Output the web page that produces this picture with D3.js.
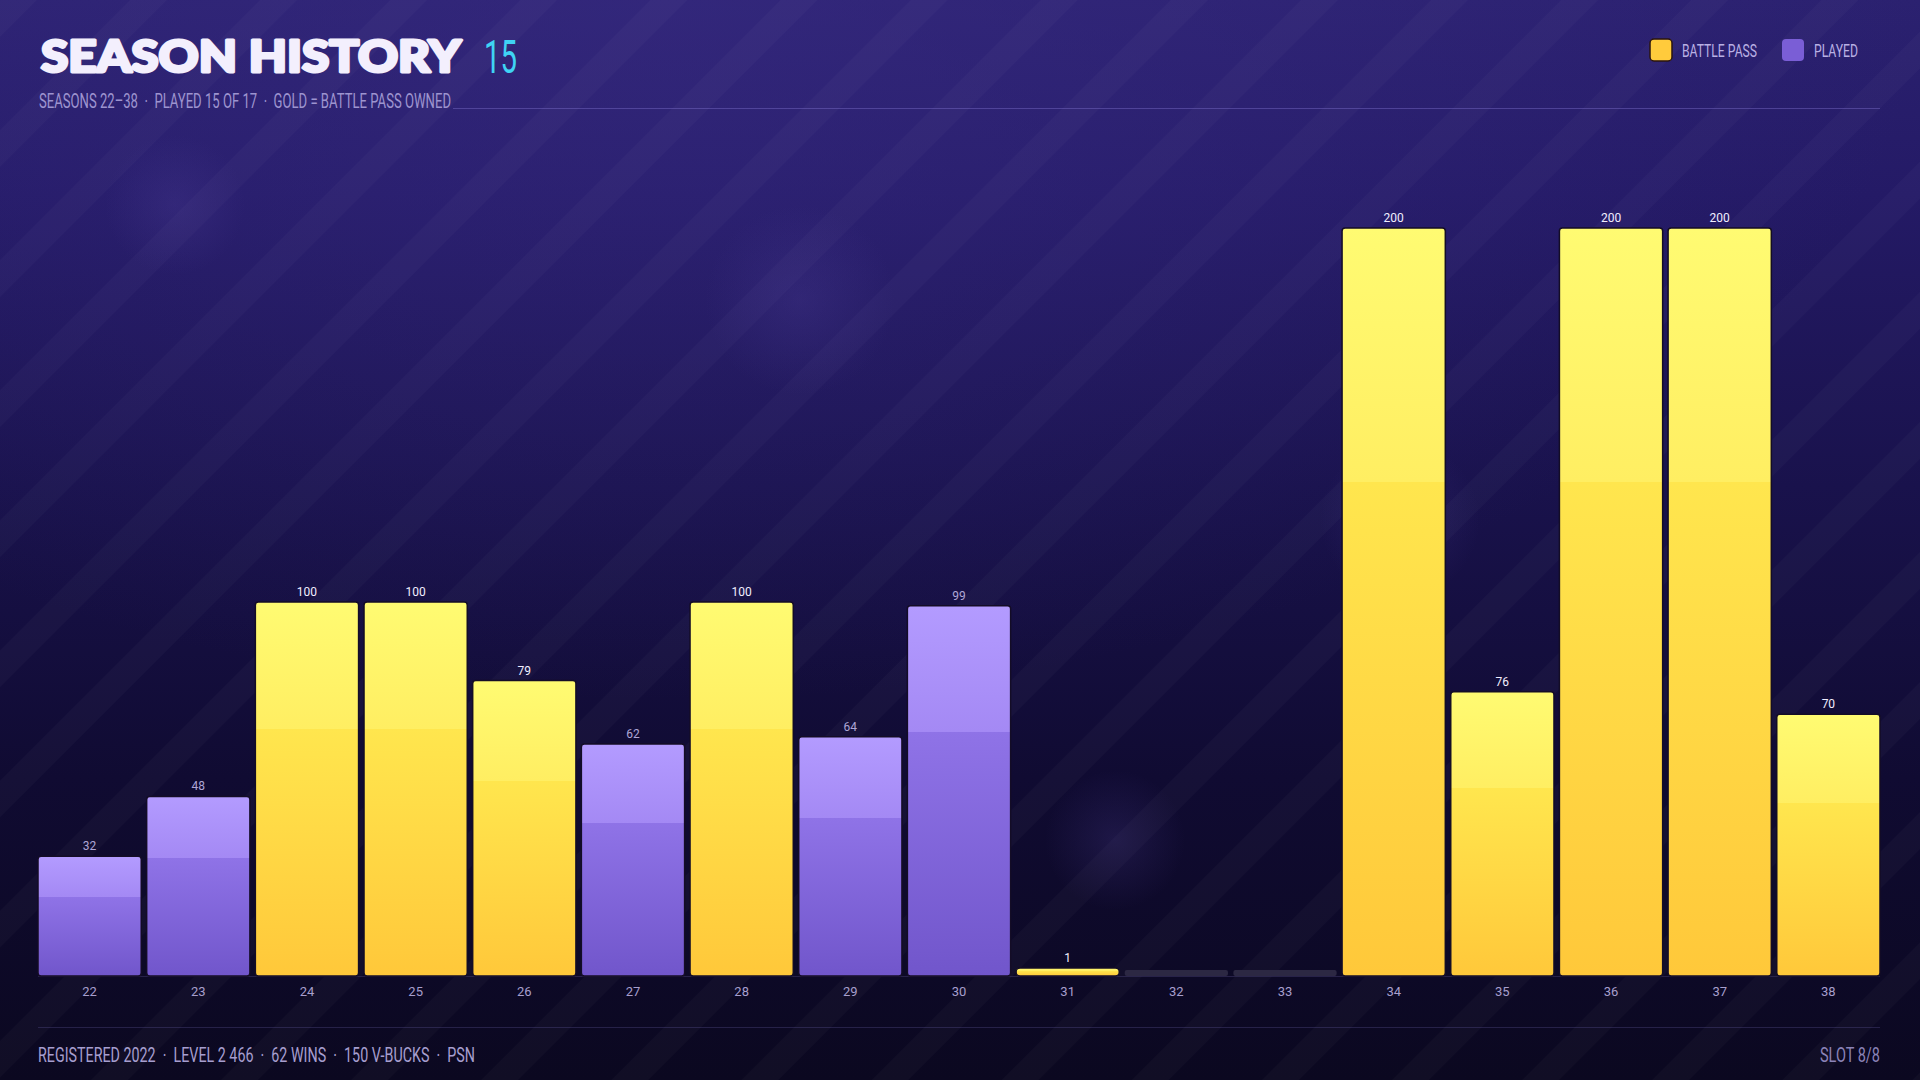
<!DOCTYPE html>
<html>
<head>
<meta charset="utf-8">
<script src="https://cdn.jsdelivr.net/npm/d3@7"></script>
<style>
  html, body { margin: 0; padding: 0; background: #0c0822; overflow: hidden; }
  svg { display: block; }
  text { white-space: pre; }
</style>
</head>
<body>
<div class="chart"></div>
<script>
// season data
const seasons = ["22","23","24","25","26","27","28","29","30","31","32","33","34","35","36","37","38"];
const levels = [32, 48, 100, 100, 79, 62, 100, 64, 99, 1, 0, 0, 200, 76, 200, 200, 70];
const battlePass = [false, false, true, true, true, false, true, false, false, true, false, false, true, true, true, true, true];
const played = [true, true, true, true, true, true, true, true, true, true, false, false, true, true, true, true, true];
const yTicks = [0, 200];

const titleText = "SEASON HISTORY";
const titleCount = "15";
const subtitleText = "SEASONS 22\u201338  \u00b7  PLAYED 15 OF 17  \u00b7  GOLD = BATTLE PASS OWNED";
const footerText = "REGISTERED 2022  \u00b7  LEVEL 2 466  \u00b7  62 WINS  \u00b7  150 V-BUCKS  \u00b7  PSN";
const slotText = "SLOT 8/8";
const legendItems = ["BATTLE PASS", "PLAYED"];

const W = 1920, H = 1080;
const plotL = 38, plotR = 1880, plotBase = 976, plotTop = 228;
const cond = "Roboto, 'Liberation Sans Narrow', 'DejaVu Sans Condensed', sans-serif";

const data = seasons.map((s, i) => ({
    season: s, level: levels[i], bp: battlePass[i], played: played[i]
}));

const svg = d3.select(".chart")
    .append("svg")
    .attr("width", W)
    .attr("height", H)
    .attr("viewBox", `0 0 ${W} ${H}`);

const defs = svg.append("defs");

// background
const bg = defs.append("linearGradient").attr("id", "bg")
    .attr("x1", 0).attr("y1", 0).attr("x2", 0).attr("y2", 1);
[[0, "#2b2170"], [0.18, "#241a66"], [0.45, "#19124c"], [0.72, "#100b32"], [1, "#0b0820"]]
    .forEach(([o, c]) => bg.append("stop").attr("offset", o).attr("stop-color", c));

const glow = defs.append("radialGradient").attr("id", "glow")
    .attr("cx", 0.35).attr("cy", 0).attr("r", 0.65);
glow.append("stop").attr("offset", 0).attr("stop-color", "#3a2d86").attr("stop-opacity", 0.5);
glow.append("stop").attr("offset", 1).attr("stop-color", "#3a2d86").attr("stop-opacity", 0);

const blob = defs.append("radialGradient").attr("id", "blob");
blob.append("stop").attr("offset", 0).attr("stop-color", "#5a4aa8").attr("stop-opacity", 0.2);
blob.append("stop").attr("offset", 1).attr("stop-color", "#5a4aa8").attr("stop-opacity", 0);

const stripes = defs.append("pattern").attr("id", "stripes")
    .attr("patternUnits", "userSpaceOnUse")
    .attr("width", 92).attr("height", 92)
    .attr("patternTransform", "rotate(45)");
stripes.append("rect").attr("x", 0).attr("y", 0).attr("width", 26).attr("height", 92)
    .attr("fill", "#ffffff").attr("fill-opacity", 0.022);

// bar gradients with gloss step at 34%
const grads = {
    gold: [[0, "#fffb72"], [0.34, "#ffee62"], [0.34, "#ffe64e"], [1, "#ffc83a"]],
    purple: [[0, "#b39bff"], [0.34, "#a489f4"], [0.34, "#8f73e7"], [1, "#7156cb"]]
};
Object.entries(grads).forEach(([k, stops]) => {
    const g = defs.append("linearGradient").attr("id", "g-" + k)
        .attr("x1", 0).attr("y1", 0).attr("x2", 0).attr("y2", 1);
    stops.forEach(([o, c]) => g.append("stop").attr("offset", o).attr("stop-color", c));
});

svg.append("rect").attr("width", W).attr("height", H).attr("fill", "url(#bg)");
svg.append("rect").attr("width", W).attr("height", H).attr("fill", "url(#glow)");
svg.append("rect").attr("width", W).attr("height", H).attr("fill", "url(#stripes)");
[[175, 205, 70], [800, 300, 95], [1115, 840, 70], [1400, 520, 80]].forEach(([cx, cy, r]) =>
    svg.append("circle").attr("cx", cx).attr("cy", cy).attr("r", r).attr("fill", "url(#blob)"));

// header
svg.append("text")
    .attr("x", 41).attr("y", 72)
    .attr("font-family", "Lato, 'Open Sans', sans-serif")
    .attr("font-weight", 900)
    .attr("font-size", 44)
    .attr("fill", "#f3effd")
    .attr("stroke", "#f3effd")
    .attr("stroke-width", 3)
    .attr("stroke-linejoin", "round")
    .attr("textLength", 420)
    .attr("lengthAdjust", "spacingAndGlyphs")
    .text(titleText);

svg.append("text")
    .attr("x", 484).attr("y", 73)
    .attr("font-family", cond)
    .attr("font-weight", 400)
    .attr("font-size", 47)
    .attr("fill", "#3fd3f4")
    .attr("textLength", 33)
    .attr("lengthAdjust", "spacingAndGlyphs")
    .text(titleCount);

svg.append("text")
    .attr("x", 39).attr("y", 108)
    .attr("font-family", cond)
    .attr("font-size", 21)
    .attr("fill", "#9d94cf")
    .attr("textLength", 412)
    .attr("lengthAdjust", "spacingAndGlyphs")
    .text(subtitleText);

svg.append("line")
    .attr("x1", 453).attr("x2", plotR)
    .attr("y1", 108.5).attr("y2", 108.5)
    .attr("stroke", "#7a6cc8").attr("stroke-opacity", 0.45).attr("stroke-width", 1);

// legend
const legend = svg.append("g");
const legendX = [1650, 1782];
const legendW = [75, 44];
const legendFill = ["#ffcb3c", "#7a5ed6"];
legendItems.forEach((name, i) => {
    legend.append("rect")
        .attr("x", legendX[i]).attr("y", 39)
        .attr("width", 22).attr("height", 22).attr("rx", 4)
        .attr("fill", legendFill[i])
        .attr("stroke", i === 0 ? "#2a1410" : "none").attr("stroke-width", 1.5);
    legend.append("text")
        .attr("x", legendX[i] + 32).attr("y", 57)
        .attr("font-family", cond)
        .attr("font-size", 19)
        .attr("fill", "#b9b0e4")
        .attr("textLength", legendW[i])
        .attr("lengthAdjust", "spacingAndGlyphs")
        .text(name);
});

// scales
const x = d3.scaleBand()
    .domain(seasons)
    .range([plotL, plotR])
    .paddingInner(0.05)
    .paddingOuter(0);

const y = d3.scaleLinear()
    .domain(d3.extent(yTicks))
    .range([plotBase, plotTop]);

// baseline
svg.append("line")
    .attr("x1", plotL).attr("x2", plotR)
    .attr("y1", plotBase + 0.5).attr("y2", plotBase + 0.5)
    .attr("stroke", "#3a3460").attr("stroke-opacity", 0.6);

const barH = d => d.played ? Math.max(y(0) - y(d.level), 8) : 6;

// bars
svg.append("g").selectAll("rect")
    .data(data)
    .join("rect")
    .attr("class", d => `bar bar-${d.season}`)
    .attr("x", d => x(d.season))
    .attr("y", d => y(0) - barH(d))
    .attr("width", x.bandwidth())
    .attr("height", barH)
    .attr("rx", d => d.played ? (barH(d) <= 8 ? 4 : 3) : 2)
    .attr("fill", d => !d.played ? "#2c2843" : (d.bp ? "url(#g-gold)" : "url(#g-purple)"))
    .attr("stroke", d => d.played ? "#140d26" : "none")
    .attr("stroke-width", 1.5);

// value labels
svg.append("g").selectAll("text")
    .data(data.filter(d => d.played))
    .join("text")
    .attr("x", d => x(d.season) + x.bandwidth() / 2)
    .attr("y", d => y(0) - barH(d) - 6)
    .attr("text-anchor", "middle")
    .attr("font-family", cond)
    .attr("font-size", 12)
    .attr("fill", d => d.bp ? "#f1eeff" : "#aea6d6")
    .text(d => d.level);

// x axis
const xAxis = svg.append("g")
    .attr("transform", `translate(0,${plotBase})`)
    .call(d3.axisBottom(x).tickSize(0).tickPadding(11));
xAxis.select(".domain").remove();
xAxis.selectAll("text")
    .attr("font-family", cond)
    .attr("font-size", 13)
    .attr("fill", "#a79fcd");

// footer
svg.append("line")
    .attr("x1", plotL).attr("x2", plotR)
    .attr("y1", 1027.5).attr("y2", 1027.5)
    .attr("stroke", "#5a5090").attr("stroke-opacity", 0.35);

svg.append("text")
    .attr("x", 38).attr("y", 1062)
    .attr("font-family", cond)
    .attr("font-size", 21)
    .attr("fill", "#a69ecf")
    .attr("textLength", 437)
    .attr("lengthAdjust", "spacingAndGlyphs")
    .text(footerText);

svg.append("text")
    .attr("x", plotR).attr("y", 1062)
    .attr("text-anchor", "end")
    .attr("font-family", cond)
    .attr("font-size", 21)
    .attr("fill", "#8b83b8")
    .attr("textLength", 60)
    .attr("lengthAdjust", "spacingAndGlyphs")
    .text(slotText);
</script>
</body>
</html>
